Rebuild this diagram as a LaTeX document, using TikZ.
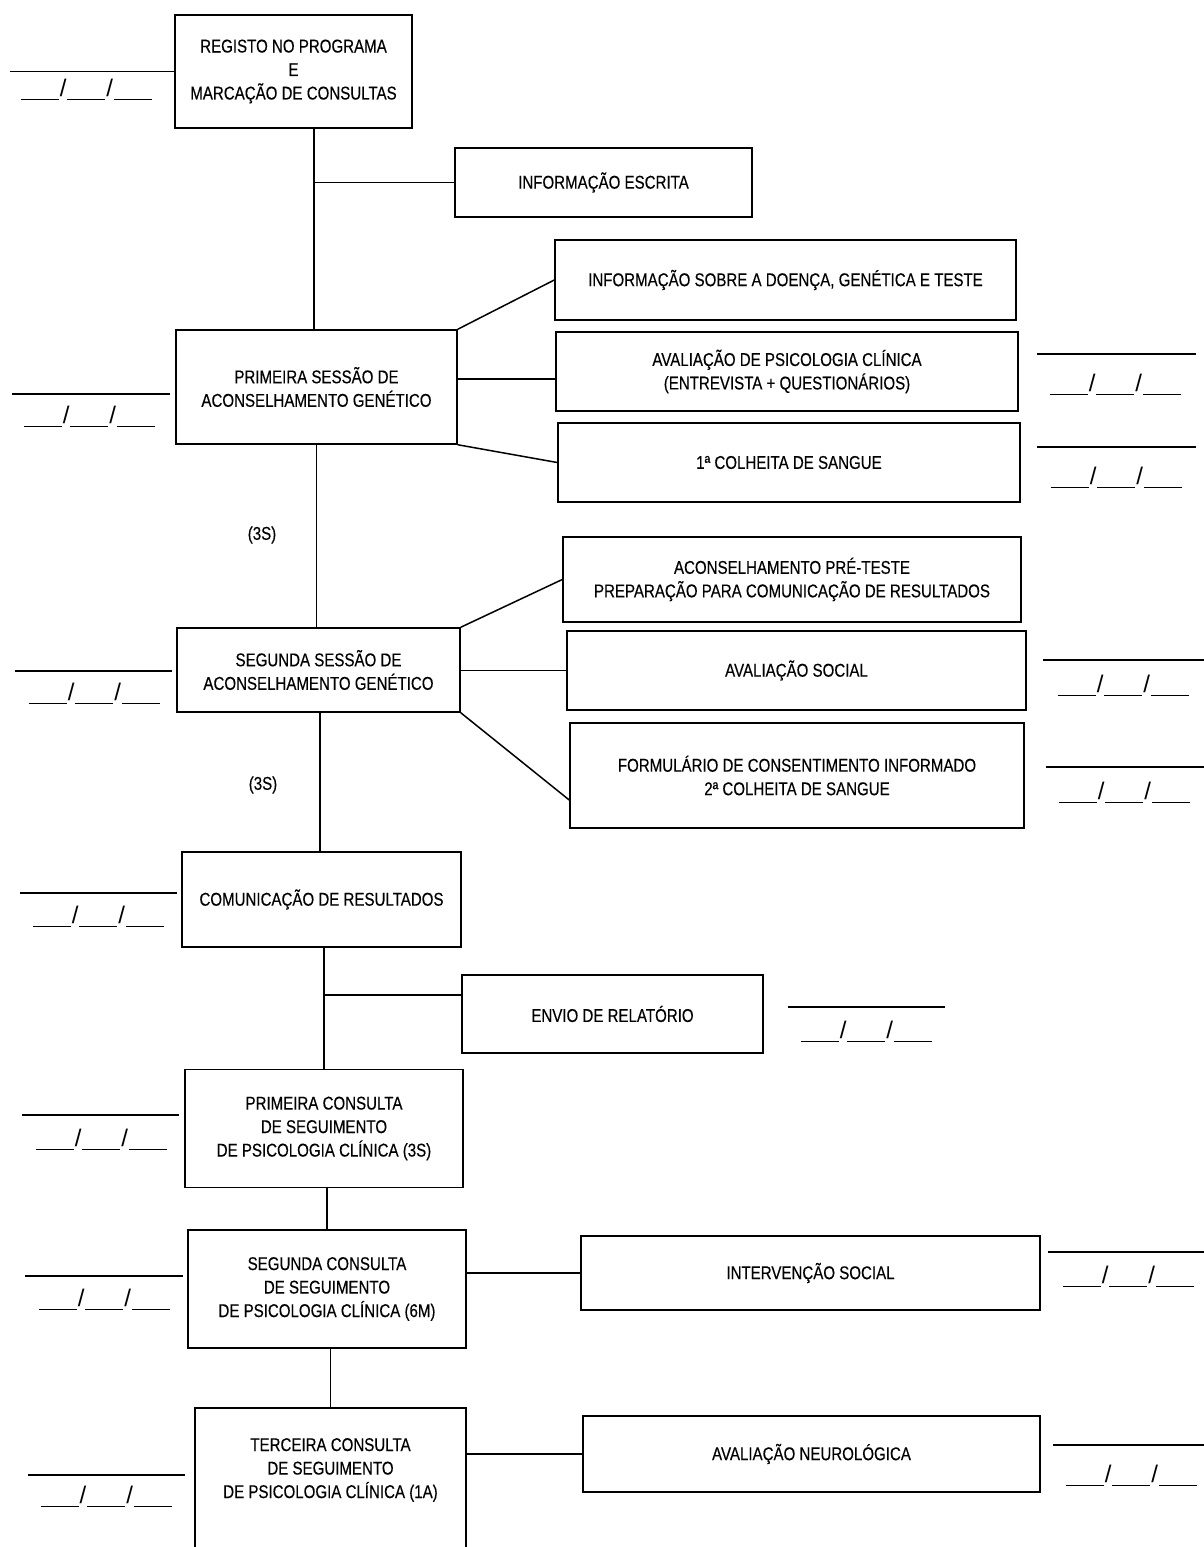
\documentclass[tikz,border=0pt]{standalone}
\usepackage{fontspec}
\setmainfont[FakeStretch=0.815,FakeBold=0.3]{Liberation Sans}
\newfontfamily\datefont{Liberation Sans}
\newcommand\blk{\rule[-4pt]{38pt}{1.5pt}}
\newcommand\dateblank{\datefont\blk\kern1pt/\kern1pt\blk\kern1pt/\kern1pt\blk}
\begin{document}
\begin{tikzpicture}[x=1pt,y=-1pt, line width=1.5pt,
  box/.style={draw, line width=1.5pt, align=center, inner sep=2pt, font=\fontsize{18.5}{23.5}\selectfont},
  lbl/.style={font=\fontsize{18.5}{23.5}\selectfont, inner sep=0pt, align=center},
  datef/.style={anchor=base west, inner sep=0pt, font=\fontsize{24}{24}\selectfont},
  conn/.style={line width=1.5pt},
  blankln/.style={line width=1.5pt}]
\useasboundingbox (0,0) rectangle (1204,1547);
\fill[white] (0,0) rectangle (1204,1547);
\clip (0,0) rectangle (1204,1547);

% boxes
\node[box, minimum width=237, minimum height=113] (reg) at (293.5,71.5) {REGISTO NO PROGRAMA\\E\\MARCAÇÃO DE CONSULTAS};
\node[box, minimum width=297, minimum height=69] (esc) at (603.5,182.5) {INFORMAÇÃO ESCRITA};
\node[box, minimum width=281, minimum height=114] (ps1) at (316.5,387) {PRIMEIRA SESSÃO DE\\ACONSELHAMENTO GENÉTICO};
\node[box, minimum width=461, minimum height=80] (inf) at (785.5,280) {INFORMAÇÃO SOBRE A DOENÇA, GENÉTICA E TESTE};
\node[box, minimum width=462, minimum height=79] (psi) at (787,371.5) {AVALIAÇÃO DE PSICOLOGIA CLÍNICA\\(ENTREVISTA + QUESTIONÁRIOS)};
\node[box, minimum width=462, minimum height=79] (col1) at (789,462.5) {1ª COLHEITA DE SANGUE};
\node[box, minimum width=283, minimum height=84] (ps2) at (318.5,670) {SEGUNDA SESSÃO DE\\ACONSELHAMENTO GENÉTICO};
\node[box, minimum width=458, minimum height=85] (pre) at (792,579.5) {ACONSELHAMENTO PRÉ-TESTE\\PREPARAÇÃO PARA COMUNICAÇÃO DE RESULTADOS};
\node[box, minimum width=459, minimum height=79] (soc) at (796.5,670.5) {AVALIAÇÃO SOCIAL};
\node[box, minimum width=454, minimum height=105] (form) at (797,775.5) {FORMULÁRIO DE CONSENTIMENTO INFORMADO\\2ª COLHEITA DE SANGUE};
\node[box, minimum width=279, minimum height=95] (com) at (321.5,899.5) {COMUNICAÇÃO DE RESULTADOS};
\node[box, minimum width=301, minimum height=78] (env) at (612.5,1014) {ENVIO DE RELATÓRIO};
\node[box, minimum width=278, minimum height=118] (c1) at (324,1128.5) {PRIMEIRA CONSULTA\\DE SEGUIMENTO\\DE PSICOLOGIA CLÍNICA (3S)};
\node[box, minimum width=278, minimum height=118] (c2) at (327,1289) {SEGUNDA CONSULTA\\DE SEGUIMENTO\\DE PSICOLOGIA CLÍNICA (6M)};
\node[box, minimum width=459, minimum height=74] (int) at (810.5,1273) {INTERVENÇÃO SOCIAL};
\node[box, minimum width=271, minimum height=170, anchor=north] (c3) at (330.5,1407) {};
\node[lbl] (c3t) at (330.5,1470) {TERCEIRA CONSULTA\\DE SEGUIMENTO\\DE PSICOLOGIA CLÍNICA (1A)};
\node[box, minimum width=457, minimum height=76] (neu) at (811.5,1454) {AVALIAÇÃO NEUROLÓGICA};

\node[lbl] (t1) at (262,535) {(3S)};
\node[lbl] (t2) at (263,785) {(3S)};

% connectors
\coordinate (sp1) at ([xshift=20.5pt]reg.south);
\draw[conn] (sp1) -- (sp1 |- ps1.north);
\draw[conn] (esc.west) -- (esc.west -| sp1);
\draw[conn] (ps1.north east) -- (inf.west);
\draw[conn] ([yshift=-7.5pt]psi.west) coordinate (pa) -- (pa -| ps1.east);
\draw[conn] (ps1.south east) -- (col1.west);
\draw[conn] (ps1.south) -- (ps1.south |- ps2.north);
\draw[conn] (ps2.north east) -- (pre.west);
\draw[conn] (soc.west) -- (soc.west -| ps2.east);
\draw[conn] (ps2.south east) -- ([yshift=-24.5pt]form.west);
\coordinate (sp2) at ([xshift=1.5pt]ps2.south);
\draw[conn] (sp2) -- (sp2 |- com.north);
\draw[conn] (c1.north) -- (c1.north |- com.south);
\draw[conn] ([yshift=19pt]env.west) coordinate (pe) -- (pe -| c1.north);
\draw[conn] (c2.north) -- (c2.north |- c1.south);
\draw[conn] (int.west) -- (int.west -| c2.east);
\draw[conn] (c3.north) -- (c3.north |- c2.south);
\draw[conn] (neu.west) -- (neu.west -| c3.east);

% date fields
\draw[blankln] (reg.west) -- (10,71.5);
\node[datef] (d1) at (20,96) {\dateblank};
\draw[blankln] (12,394) -- (170,394);
\node[datef] (d2) at (23,423) {\dateblank};
\draw[blankln] (1037,354) -- (1196,354);
\node[datef] (d3) at (1049,391) {\dateblank};
\draw[blankln] (1037,447) -- (1196,447);
\node[datef] (d4) at (1050,484) {\dateblank};
\draw[blankln] (15,671) -- (172,671);
\node[datef] (d5) at (28,700) {\dateblank};
\draw[blankln] (1043,660) -- (1204,660);
\node[datef] (d6) at (1057,692) {\dateblank};
\draw[blankln] (1046,767) -- (1204,767);
\node[datef] (d7) at (1058,799) {\dateblank};
\draw[blankln] (20,893) -- (177,893);
\node[datef] (d8) at (32,923) {\dateblank};
\draw[blankln] (788,1007) -- (945,1007);
\node[datef] (d9) at (800,1038) {\dateblank};
\draw[blankln] (22,1115) -- (179,1115);
\node[datef] (d10) at (35,1146) {\dateblank};
\draw[blankln] (1048,1252) -- (1204,1252);
\node[datef] (d11) at (1062,1283) {\dateblank};
\draw[blankln] (25,1276) -- (183,1276);
\node[datef] (d12) at (38,1306) {\dateblank};
\draw[blankln] (1053,1445) -- (1204,1445);
\node[datef] (d13) at (1065,1482) {\dateblank};
\draw[blankln] (28,1475) -- (185,1475);
\node[datef] (d14) at (40,1503) {\dateblank};
\end{tikzpicture}
\end{document}
